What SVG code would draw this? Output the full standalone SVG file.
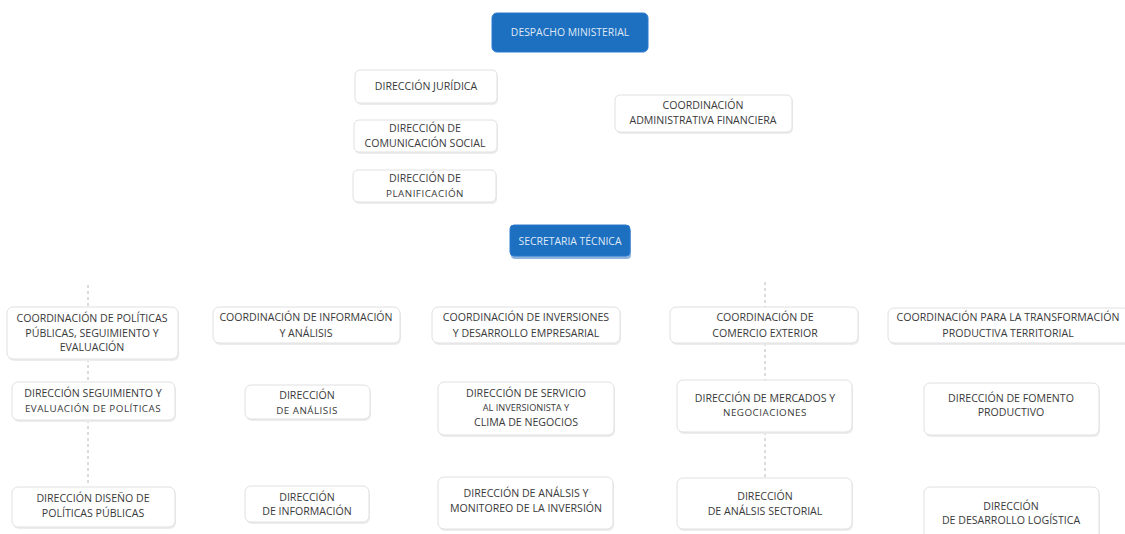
<svg xmlns="http://www.w3.org/2000/svg" width="1125" height="534" viewBox="0 0 1125 534">
<defs>
<style>
.box{fill:#fff;stroke:#e0e0e0;stroke-width:1}
.sh{fill:#ededed}
.blue{fill:#1d6fc0;stroke:#2a7ad0;stroke-width:1}
.t{font-family:"Open Sans","Liberation Sans",sans-serif;font-size:10.6px;fill:#3a3a3a;text-anchor:middle}
.tw{font-family:"Open Sans","Liberation Sans",sans-serif;font-size:10.4px;fill:#dfe9f6;text-anchor:middle}
.s{font-size:9.2px}
.w{font-size:9.8px;letter-spacing:0.5px}
.c{stroke:#b8b8b8;stroke-width:1;stroke-dasharray:3,3;fill:none}
</style>
</defs>
<rect width="1125" height="534" fill="#fff"/>
<g id="connectors">
<path class="c" d="M88 285V307M88 359V382M88 420V486"/>
<path class="c" d="M765 282V307M765 343V380M765 432V478"/>
</g>
<g id="despacho">
<rect class="blue" x="492" y="13" width="156" height="39" rx="5"/>
<text class="tw" x="570" y="36">DESPACHO MINISTERIAL</text>
</g>
<g id="juridica">
<rect class="sh" x="356" y="72" width="142" height="33" rx="5"/>
<rect class="box" x="355" y="70" width="142" height="33" rx="5"/>
<text class="t" x="426" y="90">DIRECCIÓN JURÍDICA</text>
</g>
<g id="comunicacion">
<rect class="sh" x="355" y="122" width="143" height="32" rx="5"/>
<rect class="box" x="354" y="120" width="143" height="32" rx="5"/>
<text class="t" x="425" y="132">DIRECCIÓN DE</text>
<text class="t" x="425" y="147">COMUNICACIÓN SOCIAL</text>
</g>
<g id="planificacion">
<rect class="sh" x="354" y="172" width="143" height="32" rx="5"/>
<rect class="box" x="353" y="170" width="143" height="32" rx="5"/>
<text class="t" x="425" y="182">DIRECCIÓN DE</text>
<text class="t w" x="425" y="197">PLANIFICACIÓN</text>
</g>
<g id="admin">
<rect class="sh" x="616" y="97" width="177" height="37" rx="5"/>
<rect class="box" x="615" y="95" width="177" height="37" rx="5"/>
<text class="t" x="703" y="109">COORDINACIÓN</text>
<text class="t" x="703" y="124">ADMINISTRATIVA FINANCIERA</text>
</g>
<g id="secretaria">
<rect x="511" y="228" width="120" height="31" rx="4" fill="#8fb3dc"/>
<rect class="blue" x="510" y="225" width="120" height="31" rx="4"/>
<text class="tw" x="570" y="245">SECRETARIA TÉCNICA</text>
</g>
<g id="coord-politicas">
<rect class="sh" x="8" y="309" width="171" height="52" rx="6"/>
<rect class="box" x="7" y="307" width="171" height="52" rx="6"/>
<text class="t" x="92" y="322">COORDINACIÓN DE POLÍTICAS</text>
<text class="t" x="92" y="337">PÚBLICAS, SEGUIMIENTO Y</text>
<text class="t" x="92" y="351">EVALUACIÓN</text>
</g>
<g id="coord-info">
<rect class="sh" x="214" y="309" width="187" height="36" rx="6"/>
<rect class="box" x="213" y="307" width="187" height="36" rx="6"/>
<text class="t" x="306" y="321">COORDINACIÓN DE INFORMACIÓN</text>
<text class="t" x="306" y="337">Y ANÁLISIS</text>
</g>
<g id="coord-inversiones">
<rect class="sh" x="433" y="309" width="188" height="36" rx="6"/>
<rect class="box" x="432" y="307" width="188" height="36" rx="6"/>
<text class="t" x="526" y="321">COORDINACIÓN DE INVERSIONES</text>
<text class="t" x="526" y="337">Y DESARROLLO EMPRESARIAL</text>
</g>
<g id="coord-comercio">
<rect class="sh" x="671" y="309" width="188" height="36" rx="6"/>
<rect class="box" x="670" y="307" width="188" height="36" rx="6"/>
<text class="t" x="765" y="321">COORDINACIÓN DE</text>
<text class="t" x="765" y="337">COMERCIO EXTERIOR</text>
</g>
<g id="coord-transformacion">
<rect class="sh" x="889" y="310" width="242" height="35" rx="6"/>
<rect class="box" x="888" y="308" width="242" height="35" rx="6"/>
<text class="t" x="1008" y="321">COORDINACIÓN PARA LA TRANSFORMACIÓN</text>
<text class="t" x="1008" y="337">PRODUCTIVA TERRITORIAL</text>
</g>
<g id="dir-seguimiento">
<rect class="sh" x="13" y="384" width="163" height="38" rx="6"/>
<rect class="box" x="12" y="382" width="163" height="38" rx="6"/>
<text class="t" x="93" y="397">DIRECCIÓN SEGUIMIENTO Y</text>
<text class="t w" x="93" y="412">EVALUACIÓN DE POLÍTICAS</text>
</g>
<g id="dir-analisis">
<rect class="sh" x="246" y="387" width="125" height="34" rx="6"/>
<rect class="box" x="245" y="385" width="125" height="34" rx="6"/>
<text class="t" x="307" y="399">DIRECCIÓN</text>
<text class="t w" x="307" y="414">DE ANÁLISIS</text>
</g>
<g id="dir-servicio">
<rect class="sh" x="439" y="384" width="176" height="53" rx="6"/>
<rect class="box" x="438" y="382" width="176" height="53" rx="6"/>
<text class="t" x="526" y="397">DIRECCIÓN DE SERVICIO</text>
<text class="t s" x="526" y="411">AL INVERSIONISTA Y</text>
<text class="t" x="526" y="426">CLIMA DE NEGOCIOS</text>
</g>
<g id="dir-mercados">
<rect class="sh" x="678" y="382" width="175" height="52" rx="6"/>
<rect class="box" x="677" y="380" width="175" height="52" rx="6"/>
<text class="t" x="765" y="402">DIRECCIÓN DE MERCADOS Y</text>
<text class="t w" x="765" y="416">NEGOCIACIONES</text>
</g>
<g id="dir-fomento">
<rect class="sh" x="925" y="385" width="175" height="52" rx="6"/>
<rect class="box" x="924" y="383" width="175" height="52" rx="6"/>
<text class="t" x="1011" y="402">DIRECCIÓN DE FOMENTO</text>
<text class="t" x="1011" y="416">PRODUCTIVO</text>
</g>
<g id="dir-diseno">
<rect class="sh" x="13" y="489" width="163" height="40" rx="6"/>
<rect class="box" x="12" y="487" width="163" height="40" rx="6"/>
<text class="t" x="93" y="502">DIRECCIÓN DISEÑO DE</text>
<text class="t" x="93" y="517">POLÍTICAS PÚBLICAS</text>
</g>
<g id="dir-informacion">
<rect class="sh" x="246" y="488" width="124" height="36" rx="6"/>
<rect class="box" x="245" y="486" width="124" height="36" rx="6"/>
<text class="t" x="307" y="501">DIRECCIÓN</text>
<text class="t" x="307" y="515">DE INFORMACIÓN</text>
</g>
<g id="dir-monitoreo">
<rect class="sh" x="439" y="479" width="175" height="52" rx="6"/>
<rect class="box" x="438" y="477" width="175" height="52" rx="6"/>
<text class="t" x="526" y="497">DIRECCIÓN DE ANÁLSIS Y</text>
<text class="t" x="526" y="512">MONITOREO DE LA INVERSIÓN</text>
</g>
<g id="dir-sectorial">
<rect class="sh" x="678" y="480" width="175" height="51" rx="6"/>
<rect class="box" x="677" y="478" width="175" height="51" rx="6"/>
<text class="t" x="765" y="500">DIRECCIÓN</text>
<text class="t" x="765" y="515">DE ANÁLSIS SECTORIAL</text>
</g>
<g id="dir-logistica">
<rect class="sh" x="925" y="489" width="175" height="52" rx="6"/>
<rect class="box" x="924" y="487" width="175" height="52" rx="6"/>
<text class="t" x="1011" y="510">DIRECCIÓN</text>
<text class="t" x="1011" y="524">DE DESARROLLO LOGÍSTICA</text>
</g>
</svg>
